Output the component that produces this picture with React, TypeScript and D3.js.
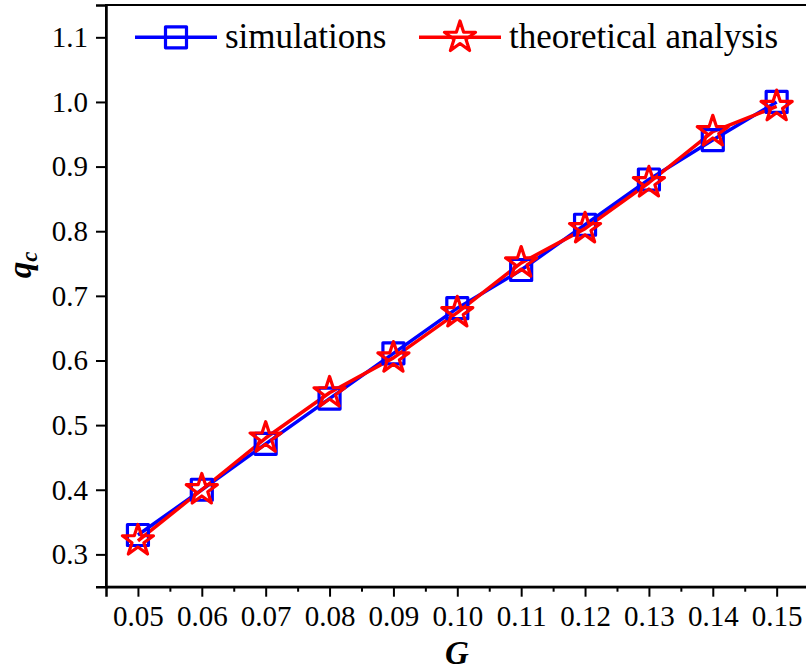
import React, { useEffect, useRef } from "react";
import * as d3 from "d3";

const gValues = [0.05, 0.06, 0.07, 0.08, 0.09, 0.1, 0.11, 0.12, 0.13, 0.14, 0.15];
const simulations = [0.33, 0.40, 0.471, 0.541, 0.611, 0.681, 0.74, 0.81, 0.88, 0.941, 1.0];
const theoretical = [0.321, 0.40, 0.48, 0.55, 0.604, 0.674, 0.751, 0.804, 0.875, 0.954, 0.993];
const xTicks = [0.05, 0.06, 0.07, 0.08, 0.09, 0.1, 0.11, 0.12, 0.13, 0.14, 0.15];
const yTicks = [0.3, 0.4, 0.5, 0.6, 0.7, 0.8, 0.9, 1.0, 1.1];

const W = 806, H = 671;
const FONT = "Liberation Serif";

const App = () => {
  const ref = useRef<SVGSVGElement>(null);

  useEffect(() => {
    const svg = d3.select(ref.current);
    svg.selectAll("*").remove();

    const x = d3.scaleLinear().domain([0.045, 0.155]).range([106, 808.6]);
    const y = d3.scaleLinear().domain([0.25, 1.15]).range([586.7, 5]);

    // frame
    svg.append("rect")
      .attr("x", x(0.045)).attr("y", y(1.15))
      .attr("width", x(0.155) - x(0.045)).attr("height", y(0.25) - y(1.15))
      .attr("fill", "none").attr("stroke", "#000").attr("stroke-width", 2);

    // minor x ticks
    svg.append("g")
      .attr("transform", `translate(0,${y(0.25)})`)
      .call(d3.axisBottom(x).tickValues(d3.range(10).map(i => 0.055 + i * 0.01)).tickSize(5).tickFormat(() => ""))
      .call(g => g.select(".domain").remove())
      .call(g => g.selectAll("line").attr("stroke-width", 2));

    const xAxis = svg.append("g")
      .attr("transform", `translate(0,${y(0.25)})`)
      .call(d3.axisBottom(x).tickValues(xTicks).tickSize(10).tickPadding(9).tickFormat(d3.format(".2f")));
    xAxis.select(".domain").attr("stroke-width", 2.5);
    xAxis.selectAll("line").attr("stroke-width", 2);
    xAxis.selectAll("text").style("font-family", FONT).style("font-size", "29px").attr("fill", "#000");

    const yAxis = svg.append("g")
      .attr("transform", `translate(${x(0.045)},0)`)
      .call(d3.axisLeft(y).tickValues(yTicks).tickSize(10).tickPadding(8).tickFormat(d3.format(".1f")));
    yAxis.select(".domain").attr("stroke-width", 2.5);
    yAxis.selectAll("line").attr("stroke-width", 2);
    yAxis.selectAll("text").style("font-family", FONT).style("font-size", "29px").attr("fill", "#000");

    const series = [
      { name: "simulations", values: simulations, color: "#0000ff", symbol: d3.symbolSquare, size: 441 },
      { name: "theoretical analysis", values: theoretical, color: "#ff0000", symbol: d3.symbolStar, size: 300 },
    ];

    const line = d3.line<number>().x((_, i) => x(gValues[i])).y(d => y(d));

    series.forEach(s => {
      svg.append("path")
        .attr("d", line(s.values))
        .attr("fill", "none").attr("stroke", s.color).attr("stroke-width", 3.5)
        .attr("stroke-linejoin", "round");
    });
    series.forEach(s => {
      svg.append("g").selectAll("path")
        .data(s.values)
        .join("path")
        .attr("d", d3.symbol(s.symbol, s.size)())
        .attr("transform", (d, i) => `translate(${x(gValues[i])},${y(d)})`)
        .attr("fill", "none").attr("stroke", s.color).attr("stroke-width", 3.2)
        .attr("stroke-linejoin", "round");
    });

    // legend
    const legendX = [135, 419];
    series.forEach((s, i) => {
      const g = svg.append("g").attr("transform", `translate(${legendX[i]},${y(1.1)})`);
      g.append("line").attr("x1", 0).attr("x2", 82).attr("y1", 0).attr("y2", 0)
        .attr("stroke", s.color).attr("stroke-width", 3.5);
      g.append("path").attr("d", d3.symbol(s.symbol, s.size)())
        .attr("transform", "translate(41,0)")
        .attr("fill", "none").attr("stroke", s.color).attr("stroke-width", 3.2)
        .attr("stroke-linejoin", "round");
      g.append("text").attr("x", 90).attr("y", 11)
        .style("font-family", FONT).style("font-size", "35px").attr("fill", "#000")
        .text(s.name);
    });

    // axis titles
    svg.append("text")
      .attr("x", 457).attr("y", 664)
      .attr("text-anchor", "middle")
      .style("font-family", FONT).style("font-size", "33px")
      .style("font-weight", "bold").style("font-style", "italic")
      .text("G");

    const yt = svg.append("text")
      .attr("transform", "translate(31,265) rotate(-90)")
      .attr("text-anchor", "middle")
      .style("font-family", FONT).style("font-size", "33px")
      .style("font-weight", "bold").style("font-style", "italic");
    yt.append("tspan").text("q");
    yt.append("tspan").style("font-size", "23px").attr("dy", 6).text("c");
  }, []);

  return (
    <svg ref={ref} width={W} height={H}
      style={{ position: "absolute", left: 0, top: 0, background: "#fff" }} />
  );
};

export default App;
